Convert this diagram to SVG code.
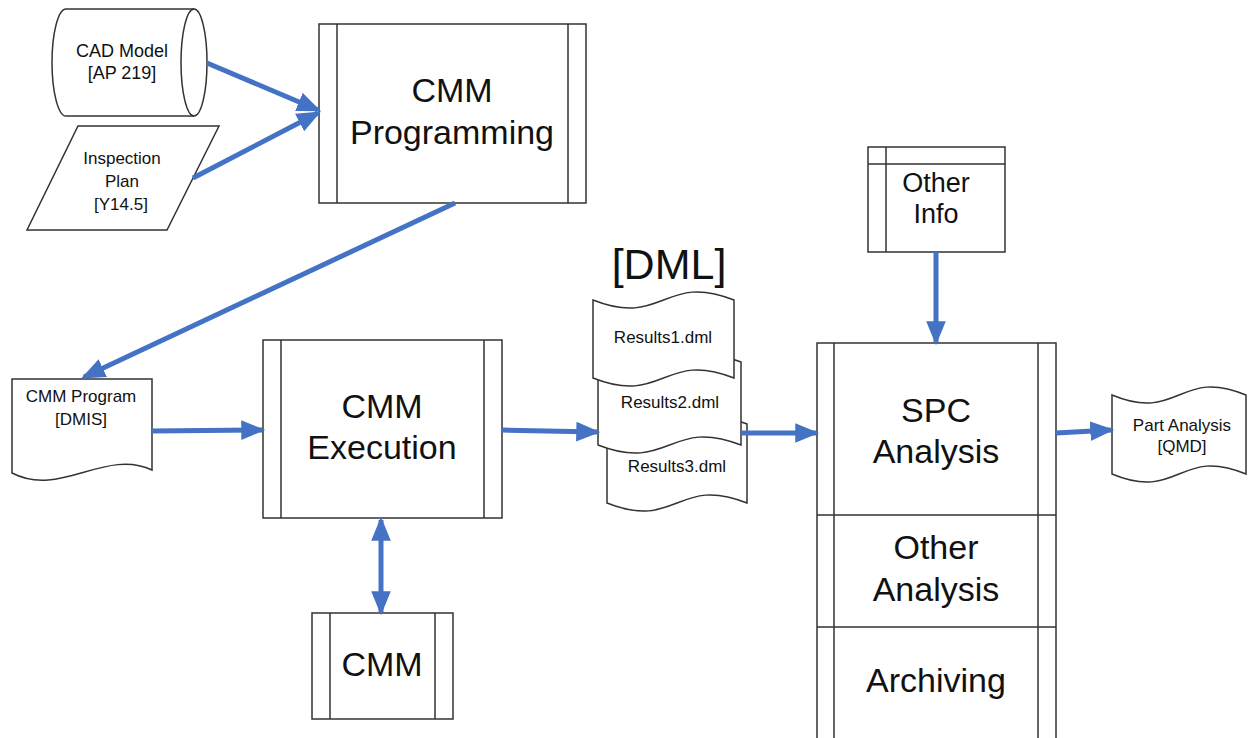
<svg xmlns="http://www.w3.org/2000/svg" width="1248" height="738" viewBox="0 0 1248 738">
<defs>
<style>
.s{fill:#fff;stroke:#333;stroke-width:1.5}
.l{fill:none;stroke:#333;stroke-width:1.5}
.t{font-family:"Liberation Sans",Arial,sans-serif;fill:#111;text-anchor:middle}
.c{fill:none;stroke:#4472C4;stroke-width:5}
</style>
<marker id="ah" markerUnits="userSpaceOnUse" markerWidth="24" markerHeight="20" viewBox="0 0 22 18" refX="19" refY="9" orient="auto-start-reverse">
<path d="M0,0 L22,9 L0,18 z" fill="#4472C4"/>
</marker>
</defs>
<rect width="1248" height="738" fill="#fff"/>

<g id="cad-model">
<path class="s" d="M66,9 L194,9 A13,53.5 0 0 1 194,116 L66,116 A14,53.5 0 0 1 66,9 Z"/>
<path class="l" d="M194,9 A13,53.5 0 0 0 194,116"/>
<text class="t" x="122" y="57" font-size="18">CAD Model</text>
<text class="t" x="122" y="79" font-size="18">[AP 219]</text>
</g>

<g id="inspection-plan">
<path class="s" d="M78,126 L219,126 L167,230 L27,230 Z"/>
<text class="t" x="122" y="164" font-size="17">Inspection</text>
<text class="t" x="122" y="187" font-size="17">Plan</text>
<text class="t" x="121" y="210" font-size="17">[Y14.5]</text>
</g>

<g id="cmm-programming">
<rect class="s" x="319" y="24" width="267" height="179"/>
<path class="l" d="M337,24 V203 M568,24 V203"/>
<text class="t" x="452" y="102" font-size="34">CMM</text>
<text class="t" x="452" y="144" font-size="34">Programming</text>
</g>

<g id="cmm-program">
<path class="s" d="M12,379 H152 V470 C105,448 60,498 12,473 Z"/>
<text class="t" x="81" y="402" font-size="17">CMM Program</text>
<text class="t" x="81" y="425" font-size="17">[DMIS]</text>
</g>

<g id="cmm-execution">
<rect class="s" x="263" y="340" width="239" height="178"/>
<path class="l" d="M281,340 V518 M484,340 V518"/>
<text class="t" x="382" y="418" font-size="34">CMM</text>
<text class="t" x="382" y="459" font-size="34">Execution</text>
</g>

<g id="cmm">
<rect class="s" x="312" y="613" width="141" height="106"/>
<path class="l" d="M330,613 V719 M435,613 V719"/>
<text class="t" x="382" y="676" font-size="34">CMM</text>
</g>

<g id="dml">
<text class="t" x="669" y="279" font-size="43">[DML]</text>
<path class="s" d="M607,424 C677,452 677,396 747,424 V503 C677,475 677,531 607,503 Z"/>
<text class="t" x="677" y="472" font-size="17">Results3.dml</text>
<path class="s" d="M598,362 C669.5,390 669.5,334 741,362 V445 C669.5,417 669.5,473 598,445 Z"/>
<text class="t" x="670" y="408" font-size="17">Results2.dml</text>
<path class="s" d="M593,300 C663.5,328 663.5,272 734,300 V378 C663.5,350 663.5,406 593,378 Z"/>
<text class="t" x="663" y="343" font-size="17">Results1.dml</text>
</g>

<g id="other-info">
<rect class="s" x="868" y="147" width="137" height="105"/>
<path class="l" d="M868,164 H1005 M886,147 V252"/>
<text class="t" x="936" y="192" font-size="27">Other</text>
<text class="t" x="936" y="223" font-size="27">Info</text>
</g>

<g id="spc-analysis">
<rect class="s" x="817" y="343" width="239" height="420"/>
<path class="l" d="M834,343 V763 M1038,343 V763 M817,515 H1056 M817,627 H1056"/>
<text class="t" x="936" y="422" font-size="34">SPC</text>
<text class="t" x="936" y="463" font-size="34">Analysis</text>
<text class="t" x="936" y="559" font-size="34">Other</text>
<text class="t" x="936" y="601" font-size="34">Analysis</text>
<text class="t" x="936" y="692" font-size="34">Archiving</text>
</g>

<g id="part-analysis">
<path class="s" d="M1112,395 C1179,423 1179,367 1246,395 V474 C1179,446 1179,502 1112,474 Z"/>
<text class="t" x="1182" y="431" font-size="17">Part Analysis</text>
<text class="t" x="1182" y="452" font-size="17">[QMD]</text>
</g>

<g id="connectors">
<line class="c" x1="207" y1="63" x2="318" y2="110" marker-end="url(#ah)"/>
<line class="c" x1="193" y1="178" x2="318" y2="113" marker-end="url(#ah)"/>
<line class="c" x1="455" y1="203" x2="84" y2="377" stroke-width="6" marker-end="url(#ah)"/>
<line class="c" x1="152" y1="431" x2="262" y2="430" marker-end="url(#ah)"/>
<line class="c" x1="502" y1="430" x2="597" y2="432" marker-end="url(#ah)"/>
<line class="c" x1="381" y1="520" x2="381" y2="612" marker-start="url(#ah)" marker-end="url(#ah)"/>
<line class="c" x1="741" y1="433" x2="816" y2="433" marker-end="url(#ah)"/>
<line class="c" x1="936" y1="252" x2="936" y2="342" marker-end="url(#ah)"/>
<line class="c" x1="1056" y1="433" x2="1111" y2="430" marker-end="url(#ah)"/>
</g>
</svg>
